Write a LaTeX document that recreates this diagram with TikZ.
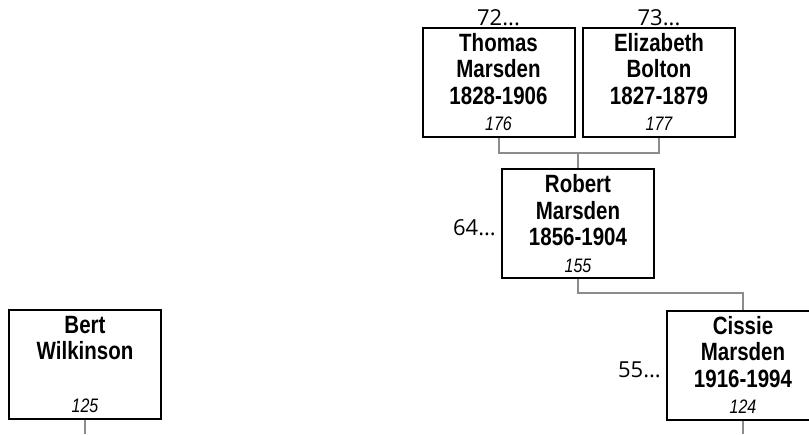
\documentclass[tikz,border=0pt]{standalone}
\usepackage{fontspec}
\setmainfont{Liberation Sans}[FakeStretch=0.82]
\newfontfamily\numfont{Open Sans}
\usetikzlibrary{positioning}
\definecolor{linkgray}{RGB}{140,140,140}
\tikzset{
  person/.style={draw=black,line width=2pt,minimum width=152pt,minimum height=109pt,
    inner sep=0pt,align=center,font=\bfseries\fontsize{25}{26.5}\selectfont},
  link/.style={draw=linkgray,line width=2pt},
  gen/.style={font=\numfont\fontsize{22}{22}\selectfont,inner sep=0pt}
}
\newcommand{\refno}[1]{{\normalfont\itshape\fontsize{19.5}{19.5}\selectfont #1}}
\begin{document}
\begin{tikzpicture}[x=1pt,y=-1pt]
\useasboundingbox (0,0) rectangle (809,434);

\node[person] (thomas) at (498.5,82) {Thomas\\Marsden\\1828-1906\\\refno{176}};
\node[person] (elizabeth) at (659,82) {Elizabeth\\Bolton\\1827-1879\\\refno{177}};
\node[person] (robert) at (578,223.5) {Robert\\Marsden\\1856-1904\\\refno{155}};
\node[person] (cissie) at (743,365) {Cissie\\Marsden\\1916-1994\\\refno{124}};
\node[person] (bert) at (85,364.5) {Bert\\Wilkinson\\\mbox{}\\\refno{125}};

\node[gen,anchor=base] (g72) at ([yshift=1.5pt]thomas.north) {72...};
\node[gen,anchor=base] (g73) at ([yshift=1.5pt]elizabeth.north) {73...};
\node[gen,anchor=base east] (g64) at ([xshift=-5pt,yshift=-11.5pt]robert.west) {64...};
\node[gen,anchor=base east] (g55) at ([xshift=-5pt,yshift=-12pt]cissie.west) {55...};

\coordinate (tj) at (578,153);
\coordinate (rj) at (578,293);
\coordinate (cend) at (743,434);
\coordinate (bend) at (85,434);

\draw[link] (thomas.south) |- (tj) -| (elizabeth.south);
\draw[link] (tj) -- (robert.north);
\draw[link] (robert.south) -- (rj) -| (cissie.north);
\draw[link] (cissie.south) -- (cend);
\draw[link] (bert.south) -- (bend);
\end{tikzpicture}
\end{document}
